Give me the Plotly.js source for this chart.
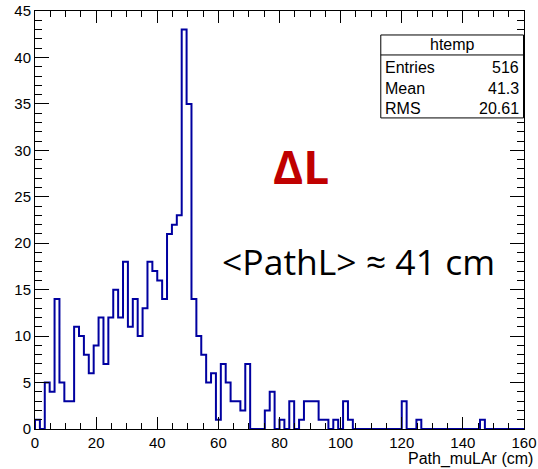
<!DOCTYPE html>
<html>
<head>
<meta charset="utf-8">
<script src="https://cdn.plot.ly/plotly-3.0.1.min.js"></script>
<style>html,body{margin:0;padding:0;background:#fff;} #chart{width:538px;height:469px;}</style>
</head>
<body>
<div id="chart"></div>
<script>
// Histogram of Path_muLAr: 100 bins from 0 to 160 cm
const xMin = 0;
const xMax = 160;
const nBins = 100;
const counts = [
  1,0,5,4,14,5,3,3,11,10,
  8,6,9,12,7,12,15,12,18,11,
  14,10,13,18,17,16,14,21,22,23,
  43,35,14,10,8,5,6,1,7,5,
  3,3,2,7,0,0,0,2,4,0,
  1,0,3,0,1,3,3,3,1,1,
  0,1,0,3,1,0,0,0,0,0,
  0,0,0,0,0,3,0,0,1,0,
  0,0,0,0,0,0,0,0,0,0,
  0,1,0,0,0,0,0,0,0,0
];
const xTickVals = [0,20,40,60,80,100,120,140,160];
const yTickVals = [0,5,10,15,20,25,30,35,40,45];
const statsTitle = "htemp";
const statsLabels = ["Entries","Mean","RMS"];
const statsValues = ["516","41.3","20.61"];
const xTitle = "Path_muLAr (cm)";
const noteDelta = "ΔL";
const notePath = "&lt;PathL&gt; ≈ 41 cm";

const bw = (xMax - xMin) / nBins;
const xs = [], ys = [];
xs.push(xMin); ys.push(0);
for (let i = 0; i < nBins; i++) { xs.push(xMin + i * bw); ys.push(counts[i]); }
xs.push(xMax); ys.push(0);

const trace = {
  type: 'scatter', mode: 'lines', x: xs, y: ys,
  line: {shape: 'hv', color: '#0000a0', width: 2},
  hoverinfo: 'skip', cliponaxis: true
};

const tickFont = {family: 'Liberation Sans, Arial, sans-serif', size: 15, color: '#000'};
const boxFont = {family: 'Liberation Sans, Arial, sans-serif', size: 16, color: '#000'};
const L = 34.5, R = 524.5, T = 11, B = 429.3;
const px = v => (v - L) / (R - L);
const py = v => (B - v) / (B - T);

const annotations = [];
annotations.push({xref:'paper', yref:'paper', x: px(452.5), y: py(44.5), text: statsTitle, showarrow:false, xanchor:'center', yanchor:'middle', font: boxFont});
const rowY = [68, 88.5, 108.5];
for (let i = 0; i < statsLabels.length; i++) {
  annotations.push({xref:'paper', yref:'paper', x: px(383), y: py(rowY[i]), text: statsLabels[i], showarrow:false, xanchor:'left', yanchor:'middle', font: boxFont});
  annotations.push({xref:'paper', yref:'paper', x: px(521.5), y: py(rowY[i]), text: statsValues[i], showarrow:false, xanchor:'right', yanchor:'middle', font: boxFont});
}
annotations.push({xref:'paper', yref:'paper', x: px(536), y: py(459.5), text: xTitle, showarrow:false, xanchor:'right', yanchor:'middle', font: boxFont});
annotations.push({xref:'paper', yref:'paper', x: px(301), y: py(166), text: '<b>' + noteDelta + '</b>', showarrow:false, xanchor:'center', yanchor:'middle', font: {family:'Open Sans, sans-serif', size: 46, color:'#c00000'}});
annotations.push({xref:'paper', yref:'paper', x: px(358.5), y: py(261), text: notePath, showarrow:false, xanchor:'center', yanchor:'middle', font: {family:'Open Sans, sans-serif', size: 35.5, color:'#000'}});

const shapes = [
  {type:'rect', xref:'paper', yref:'paper', x0: px(381), x1: px(524), y0: py(118), y1: py(35), line:{color:'#000', width:1}, fillcolor:'#fff'},
  {type:'line', xref:'paper', yref:'paper', x0: px(381), x1: px(524), y0: py(55), y1: py(55), line:{color:'#000', width:1}}
];

const layout = {
  width: 538, height: 469,
  margin: {l: L, r: 538 - R, t: T, b: 469 - B, pad: 0},
  paper_bgcolor: '#fff', plot_bgcolor: '#fff',
  showlegend: false,
  xaxis: {
    range: [xMin, xMax], tickmode: 'array', tickvals: xTickVals,
    ticks: 'inside', ticklen: 12, tickwidth: 1, tickcolor: '#000',
    minor: {dtick: 5, ticks: 'inside', ticklen: 6, tickcolor: '#000', tickwidth: 1, showgrid: false},
    showline: true, linecolor: '#000', linewidth: 1, mirror: 'ticks',
    showgrid: false, zeroline: false, tickfont: tickFont
  },
  yaxis: {
    range: [0, 45], tickmode: 'array', tickvals: yTickVals,
    ticks: 'inside', ticklen: 14, tickwidth: 1, tickcolor: '#000',
    minor: {dtick: 1, ticks: 'inside', ticklen: 7, tickcolor: '#000', tickwidth: 1, showgrid: false},
    showline: true, linecolor: '#000', linewidth: 1, mirror: 'ticks',
    showgrid: false, zeroline: false, tickfont: tickFont
  },
  shapes: shapes,
  annotations: annotations
};

Plotly.newPlot('chart', [trace], layout, {staticPlot: true, displayModeBar: false});
</script>
</body>
</html>
